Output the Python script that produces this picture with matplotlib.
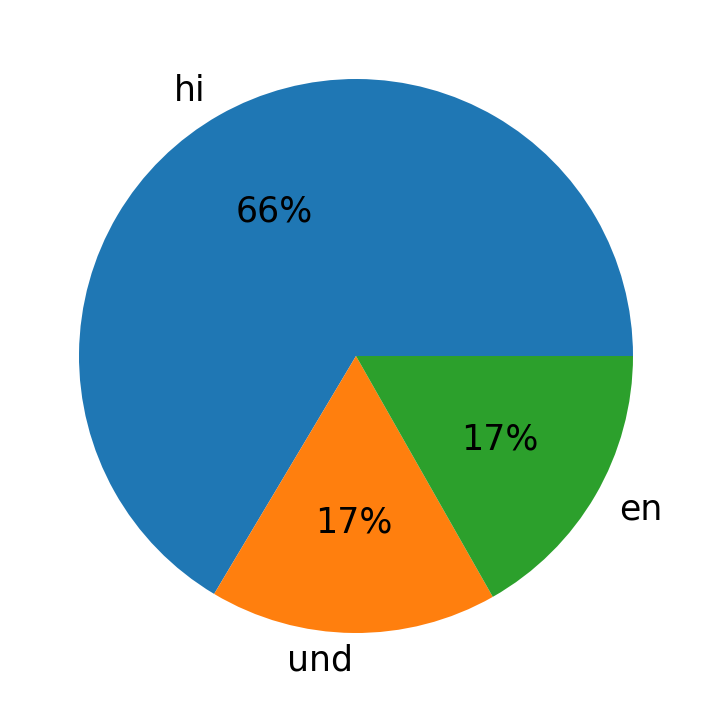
import matplotlib
matplotlib.use("Agg")
import matplotlib.pyplot as plt

labels = ["hi", "und", "en"]
values = [99, 25, 25]
colors = ["#1f77b4", "#ff7f0e", "#2ca02c"]

fig = plt.figure(figsize=(7.12, 7.13), dpi=100)
ax = fig.add_axes([0, 0, 1, 1])
ax.pie(values, labels=labels, colors=colors, autopct="%1.0f%%",
       textprops={"fontsize": 25})
r = 277.0
ax.set_xlim(-356 / r, 356 / r)
ax.set_ylim(-357 / r, 356 / r)
ax.set_aspect("equal")
ax.axis("off")
fig.savefig("out.png", dpi=100)
